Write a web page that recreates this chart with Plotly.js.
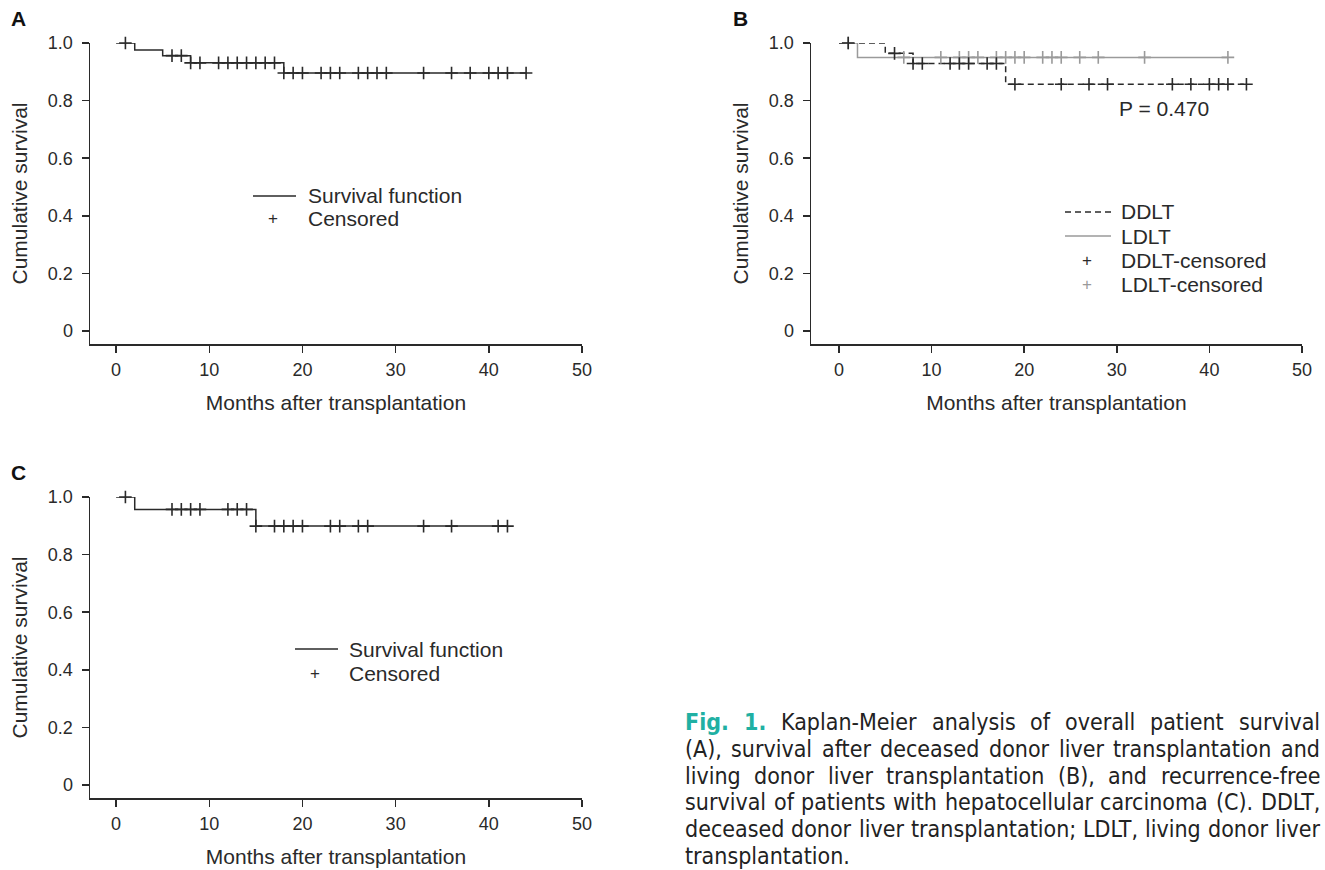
<!DOCTYPE html>
<html>
<head>
<meta charset="utf-8">
<script src="https://cdn.plot.ly/plotly-3.0.1.min.js"></script>
<style>
html,body{margin:0;padding:0;background:#fff;}
#chart{width:1325px;height:870px;}
</style>
</head>
<body>
<div id="chart"></div>
<script>
// ---------------- DATA ----------------
// Panel A: overall patient survival
const stepTimesA = [0, 2, 5, 8, 18, 44];
const survA      = [1.0, 0.976, 0.956, 0.931, 0.896, 0.896];
const censorA    = [1, 6, 7, 8, 9, 11, 12, 13, 14, 15, 16, 17, 18, 19, 20, 22, 23, 24, 26, 27, 28, 29, 33, 36, 38, 40, 41, 42, 44];

// Panel B: DDLT vs LDLT
const stepTimesDDLT = [0, 5, 8, 18, 44];
const survDDLT      = [1.0, 0.964, 0.929, 0.857, 0.857];
const censorDDLT    = [1, 6, 8, 9, 12, 13, 14, 16, 17, 19, 24, 27, 29, 36, 38, 40, 41, 42, 44];
const stepTimesLDLT = [0, 2, 42];
const survLDLT      = [1.0, 0.95, 0.95];
const censorLDLT    = [1, 7, 11, 13, 14, 15, 17, 18, 19, 20, 22, 23, 24, 26, 28, 33, 42];
const pValueText    = "P = 0.470";

// Panel C: recurrence-free survival (HCC)
const stepTimesC = [0, 2, 15, 42];
const survC      = [1.0, 0.957, 0.899, 0.899];
const censorC    = [1, 6, 7, 8, 9, 12, 13, 14, 15, 17, 18, 19, 20, 23, 24, 26, 27, 33, 36, 41, 42];

// Axis ticks
const xTickVals = [0, 10, 20, 30, 40, 50];
const xTickText = ["0", "10", "20", "30", "40", "50"];
const yTickVals = [0, 0.2, 0.4, 0.6, 0.8, 1.0];
const yTickText = ["0", "0.2", "0.4", "0.6", "0.8", "1.0"];

const xTitle = "Months after transplantation";
const yTitle = "Cumulative survival";

const captionLines = [
  "Fig. 1. Kaplan-Meier analysis of  overall patient survival",
  "(A), survival after deceased donor liver transplantation and",
  "living donor liver transplantation (B), and  recurrence-free",
  "survival of patients with hepatocellular carcinoma (C). DDLT,",
  "deceased donor liver transplantation; LDLT, living donor liver",
  "transplantation."
];

// ---------------- HELPERS ----------------
const W = 1325, H = 870;
const px = x => x / W;
const py = y => 1 - y / H;
function stepAt(times, surv, t) {
  let v = surv[0];
  for (let i = 0; i < times.length; i++) if (times[i] <= t) v = surv[i];
  return v;
}
const DARK = "#2a2a2a";
const GRAY = "#9a9a9a";
const FONT = "Liberation Sans, Arial, sans-serif";

function lineTrace(times, surv, ax, color, dash) {
  return {x: times, y: surv, xaxis: ax[0], yaxis: ax[1], type: "scatter", mode: "lines",
    line: {shape: "hv", color: color, width: 1.5, dash: dash || "solid"},
    cliponaxis: false, showlegend: false, hoverinfo: "skip"};
}
function censorTrace(cens, times, surv, ax, color) {
  return {x: cens, y: cens.map(t => stepAt(times, surv, t)), xaxis: ax[0], yaxis: ax[1],
    type: "scatter", mode: "markers",
    marker: {symbol: "cross-thin", size: 9, color: color, line: {color: color, width: 1.6}},
    cliponaxis: false, showlegend: false, hoverinfo: "skip"};
}

const traces = [
  lineTrace(stepTimesA, survA, ["x", "y"], DARK),
  censorTrace(censorA, stepTimesA, survA, ["x", "y"], DARK),
  lineTrace(stepTimesLDLT, survLDLT, ["x2", "y2"], GRAY),
  lineTrace(stepTimesDDLT, survDDLT, ["x2", "y2"], DARK, "6px,4px"),
  censorTrace(censorLDLT, stepTimesLDLT, survLDLT, ["x2", "y2"], GRAY),
  censorTrace(censorDDLT, stepTimesDDLT, survDDLT, ["x2", "y2"], DARK),
  lineTrace(stepTimesC, survC, ["x3", "y3"], DARK),
  censorTrace(censorC, stepTimesC, survC, ["x3", "y3"], DARK)
];

function xAxis(domain, range, anchor) {
  return {domain: domain, range: range, anchor: anchor, showline: true, linecolor: DARK, linewidth: 1.5,
    ticks: "outside", ticklen: 7, tickwidth: 1.5, tickcolor: DARK, showgrid: false, zeroline: false,
    tickvals: xTickVals, ticktext: xTickText, ticklabelstandoff: 2,
    tickfont: {family: FONT, size: 18, color: DARK},
    title: {text: xTitle, standoff: 16, font: {family: FONT, size: 21, color: DARK}},
    fixedrange: true, automargin: false};
}
function yAxis(domain, range, anchor) {
  return {domain: domain, range: range, anchor: anchor, showline: true, linecolor: DARK, linewidth: 1.5,
    ticks: "outside", ticklen: 7, tickwidth: 1.5, tickcolor: DARK, showgrid: false, zeroline: false,
    tickvals: yTickVals, ticktext: yTickText, ticklabelstandoff: 5,
    tickfont: {family: FONT, size: 18, color: DARK},
    title: {text: yTitle, standoff: 14, font: {family: FONT, size: 21, color: DARK}},
    fixedrange: true, automargin: false};
}

const yDomTop = [py(344), py(43)];
const yDomBot = [py(798), py(497)];
const xDomLeft = [px(90), px(582)];
const xDomRight = [px(811), px(1302)];

const annotations = [];
const shapes = [];
function txt(text, x, y, opts) {
  annotations.push(Object.assign({text: text, x: px(x), y: py(y), xref: "paper", yref: "paper",
    showarrow: false, xanchor: "left", yanchor: "middle",
    font: {family: FONT, size: 21, color: DARK}}, opts || {}));
}
function seg(x0, x1, y, color, dash) {
  shapes.push({type: "line", xref: "paper", yref: "paper", x0: px(x0), x1: px(x1), y0: py(y), y1: py(y),
    line: {color: color, width: 1.5, dash: dash || "solid"}});
}

// panel letters
txt("<b>A</b>", 9, 18, {font: {family: FONT, size: 21, color: "#111"}});
txt("<b>B</b>", 731, 18, {font: {family: FONT, size: 21, color: "#111"}});
txt("<b>C</b>", 9, 472, {font: {family: FONT, size: 21, color: "#111"}});

// legend A
seg(253, 296, 196, DARK);
txt("Survival function", 306, 196);
txt("+", 273, 219, {xanchor: "center", font: {family: FONT, size: 17, color: DARK}});
txt("Censored", 306, 219);
// legend C
seg(295, 338, 649, DARK);
txt("Survival function", 347, 649);
txt("+", 315, 673, {xanchor: "center", font: {family: FONT, size: 17, color: DARK}});
txt("Censored", 347, 673);
// legend B
seg(1065, 1111, 212, DARK, "6px,4px");
txt("DDLT", 1119, 212);
seg(1065, 1111, 236, GRAY);
txt("LDLT", 1119, 236);
txt("+", 1087, 260, {xanchor: "center", font: {family: FONT, size: 17, color: DARK}});
txt("DDLT-censored", 1119, 260);
txt("+", 1087, 284, {xanchor: "center", font: {family: FONT, size: 17, color: GRAY}});
txt("LDLT-censored", 1119, 284);
txt(pValueText, 1164, 109, {xanchor: "center"});

// caption, justified word by word
const CAP_FONT = "DejaVu Sans Condensed, Roboto, sans-serif";
const CAP_SIZE = 23;
const capLeft = 683, capRight = 1318;
const capY0 = 722, capDY = 26.8;
const cv = document.createElement("canvas").getContext("2d");
function measure(word, bold) {
  cv.font = (bold ? "bold " : "") + CAP_SIZE + "px " + CAP_FONT;
  return cv.measureText(word).width;
}
captionLines.forEach((line, li) => {
  const words = line.trim().split(/\s+/);
  const bold = words.map((w, i) => li === 0 && i < 2);
  const widths = words.map((w, i) => measure(w, bold[i]));
  const total = widths.reduce((a, b) => a + b, 0);
  const last = li === captionLines.length - 1;
  const gap = last ? measure(" ", false) : (capRight - capLeft - total) / (words.length - 1);
  let x = capLeft;
  words.forEach((w, i) => {
    annotations.push({text: bold[i] ? "<b>" + w + "</b>" : w, x: px(x), y: py(capY0 + li * capDY),
      xref: "paper", yref: "paper", showarrow: false, xanchor: "left", yanchor: "middle",
      font: {family: CAP_FONT, size: CAP_SIZE, color: bold[i] ? "#1fb0a3" : "#222"}});
    x += widths[i] + gap;
  });
});

const layout = {
  width: W, height: H, margin: {l: 0, r: 0, t: 0, b: 0},
  paper_bgcolor: "#fff", plot_bgcolor: "#fff", showlegend: false,
  xaxis: xAxis(xDomLeft, [-2.8, 50], "y"),
  yaxis: yAxis(yDomTop, [-0.045, 1.0], "x"),
  xaxis2: xAxis(xDomRight, [-3.02, 50], "y2"),
  yaxis2: yAxis(yDomTop, [-0.045, 1.0], "x2"),
  xaxis3: xAxis(xDomLeft, [-2.8, 50], "y3"),
  yaxis3: yAxis(yDomBot, [-0.045, 1.0], "x3"),
  annotations: annotations, shapes: shapes
};
Plotly.newPlot("chart", traces, layout, {displayModeBar: false, staticPlot: true});
</script>
</body>
</html>
